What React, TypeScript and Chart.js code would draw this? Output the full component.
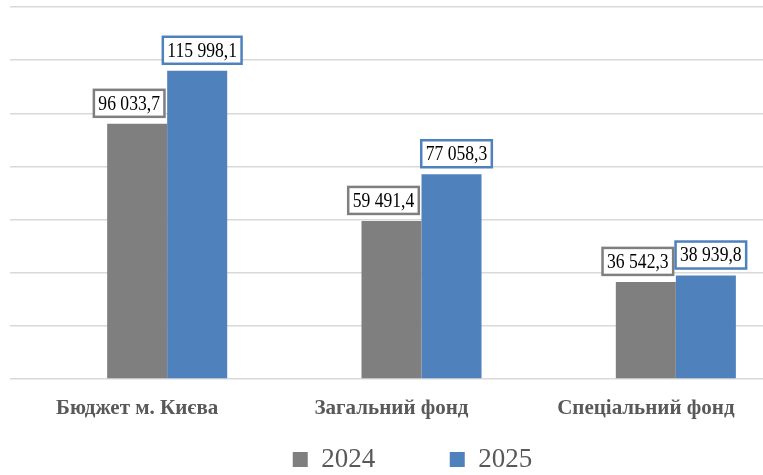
import React, { useEffect, useRef } from 'react';
import { Chart, registerables } from 'chart.js';

Chart.register(...registerables);

// ---- data ----
const categories = ['Бюджет м. Києва', 'Загальний фонд', 'Спеціальний фонд'];
const seriesLabels = ['2024', '2025'];
const values2024 = [96033.7, 59491.4, 36542.3];
const values2025 = [115998.1, 77058.3, 38939.8];
// empty leading series slot (as in the source chart, bars are shifted right of an empty slot)
const emptySeries = [null, null, null];
const yMin = 0;
const yMax = 140000;
const yStep = 20000;

// ---- style ----
const GRAY = '#7f7f7f';
const BLUE = '#4f81bd';
const SERIF = '"Liberation Serif", "Times New Roman", serif';
const W = 825;
const H = 483;

const fmt = (v: number) => {
  const [i, d] = v.toFixed(1).split('.');
  return i.replace(/\B(?=(\d{3})+(?!\d))/g, ' ') + ',' + d;
};

const labelOffsets: Record<number, number> = { 1: -8, 2: 5 };
const LABEL_SX = 0.88;

const boxedLabels = {
  id: 'boxedLabels',
  afterDatasetsDraw(chart: any) {
    const ctx = chart.ctx as CanvasRenderingContext2D;
    [1, 2].forEach((di) => {
      const meta = chart.getDatasetMeta(di);
      const ds = chart.data.datasets[di];
      meta.data.forEach((bar: any, i: number) => {
        const v = ds.data[i];
        if (v == null) return;
        const text = fmt(v);
        ctx.save();
        ctx.font = `20px ${SERIF}`;
        const tw = ctx.measureText(text).width * LABEL_SX;
        const w = tw + 9;
        const h = 27;
        const cx = bar.x + labelOffsets[di];
        const bottom = bar.y - 7;
        ctx.fillStyle = '#ffffff';
        ctx.fillRect(cx - w / 2, bottom - h, w, h);
        ctx.strokeStyle = ds.backgroundColor;
        ctx.lineWidth = 2.5;
        ctx.strokeRect(cx - w / 2, bottom - h, w, h);
        ctx.fillStyle = '#000000';
        ctx.textAlign = 'center';
        ctx.textBaseline = 'middle';
        ctx.translate(cx, bottom - h / 2 + 1);
        ctx.scale(LABEL_SX, 1);
        ctx.fillText(text, 0, 0);
        ctx.restore();
      });
    });
  },
};

export default function App() {
  const ref = useRef<HTMLCanvasElement | null>(null);

  useEffect(() => {
    document.body.style.margin = '0';
    document.body.style.overflow = 'hidden';
    document.documentElement.style.overflow = 'hidden';
    if (!ref.current) return;
    const chart = new Chart(ref.current, {
      type: 'bar',
      data: {
        labels: categories,
        datasets: [
          { label: '', data: emptySeries as any, backgroundColor: 'rgba(0,0,0,0)', borderWidth: 0 },
          { label: seriesLabels[0], data: values2024, backgroundColor: GRAY, borderWidth: 0 },
          { label: seriesLabels[1], data: values2025, backgroundColor: BLUE, borderWidth: 0 },
        ],
      },
      options: {
        animation: false,
        responsive: false,
        devicePixelRatio: 1,
        layout: { padding: { top: 7, left: 0, right: 0, bottom: 0 } },
        datasets: { bar: { categoryPercentage: 0.708, barPercentage: 1 } },
        plugins: {
          tooltip: { enabled: false },
          legend: {
            position: 'bottom',
            labels: {
              boxWidth: 15,
              boxHeight: 15,
              padding: 7,
              color: '#595959',
              font: { family: SERIF, size: 27 },
              generateLabels: (c: any) => {
                const items = (Chart.defaults.plugins.legend.labels as any)
                  .generateLabels(c)
                  .filter((it: any) => it.datasetIndex !== 0);
                return items.map((it: any, i: number) =>
                  i === 0 ? { ...it, text: it.text + '          ' } : it
                );
              },
            },
          },
        },
        scales: {
          x: {
            grid: { display: false, drawTicks: false },
            border: { display: false },
            ticks: {
              color: '#595959',
              padding: 17,
              font: { family: SERIF, size: 21, weight: 'bold' },
            },
            afterFit: (s: any) => {
              s.height = 60;
            },
          },
          y: {
            min: yMin,
            max: yMax,
            ticks: { display: false, stepSize: yStep },
            grid: { color: '#d9d9d9', lineWidth: 1.5, drawTicks: false },
            border: { display: false },
            afterFit: (s: any) => {
              s.width = 10;
            },
          },
          yRight: {
            type: 'linear',
            position: 'right',
            grid: { display: false, drawTicks: false },
            ticks: { display: false },
            border: { display: false },
            afterFit: (s: any) => {
              s.width = 52;
            },
          },
        },
      } as any,
      plugins: [boxedLabels],
    });
    return () => chart.destroy();
  }, []);

  return (
    <div style={{ width: W, height: H, position: 'relative' }}>
      <canvas ref={ref} width={W} height={H} style={{ width: W, height: H, display: 'block' }} />
    </div>
  );
}
